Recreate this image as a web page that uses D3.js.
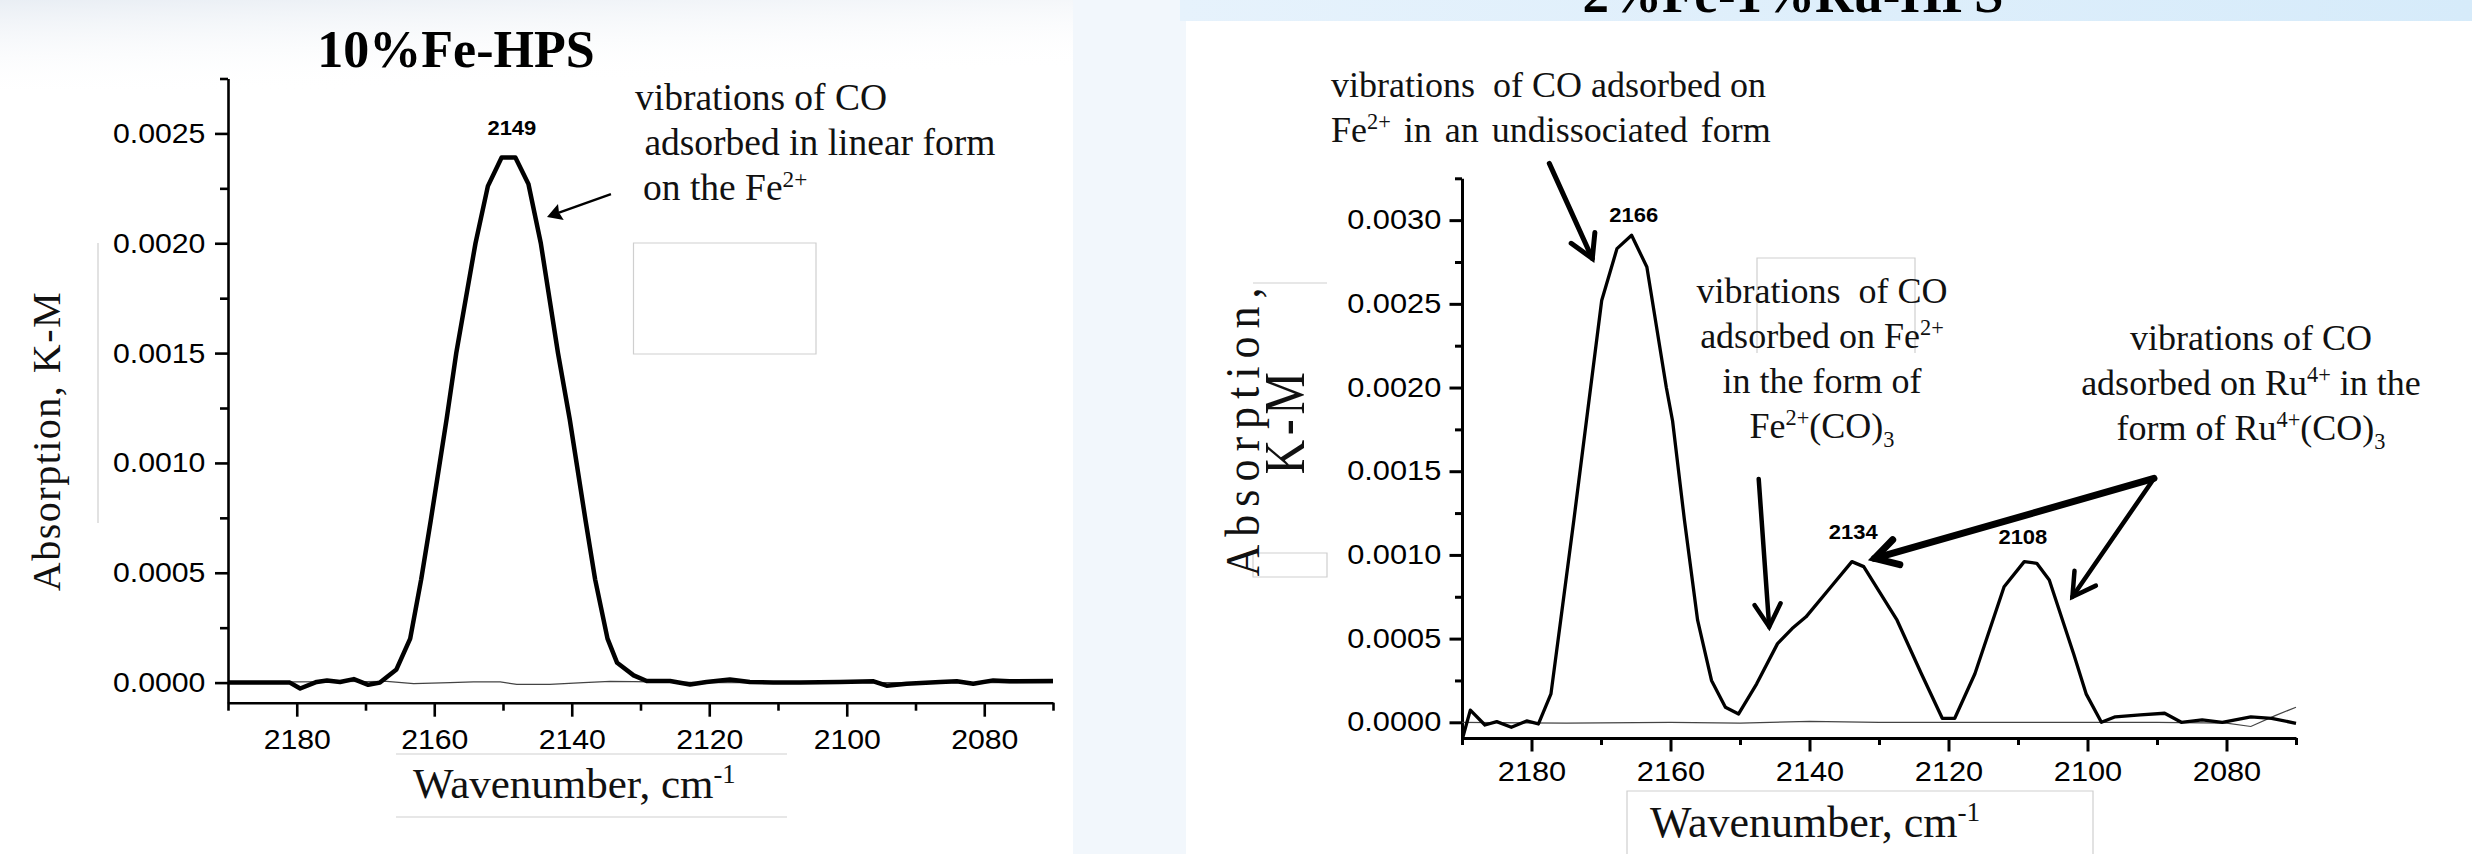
<!DOCTYPE html>
<html><head><meta charset="utf-8">
<script src="https://cdn.jsdelivr.net/npm/d3@7"></script>
<style>
html,body{margin:0;padding:0;background:#fff;}
svg{display:block;}
text{white-space:pre;}
.wide{transform-box:fill-box;transform-origin:center;}
</style></head><body>
<svg id="fig" width="2472" height="854"></svg>
<script>
// ---------- shared axis values ----------
const xMajorTicks = [2180, 2160, 2140, 2120, 2100, 2080];
const xMinorTicks = [2190, 2170, 2150, 2130, 2110, 2090, 2070];

// ---------- 10%Fe-HPS ----------
const feYMajor = [0, 0.0005, 0.0010, 0.0015, 0.0020, 0.0025];
const feYMinor = [0.00025, 0.00075, 0.00125, 0.00175, 0.00225, 0.00275];
const feWn = [2190, 2181, 2179.5, 2177.1, 2175.6, 2173.7, 2171.7, 2169.6, 2167.9, 2165.5,
  2163.5, 2161.9, 2160.5, 2158.2, 2156.8, 2154.0, 2152.2, 2150.2, 2148.2, 2146.3,
  2144.5, 2142.0, 2140.3, 2138.0, 2136.6, 2134.8, 2133.4, 2131.0, 2129.1, 2125.7,
  2122.8, 2120.4, 2117.0, 2114.1, 2110.7, 2106.8, 2101.0, 2096.1, 2094.2, 2091.3,
  2086.4, 2084.0, 2081.6, 2078.7, 2076.3, 2070];
const feAbs = [0, 0, -0.000027, 0.000003, 0.00001, 0.000003, 0.000016, -0.00001, 0, 0.00006,
  0.0002, 0.00047, 0.00074, 0.0012, 0.0015, 0.0020, 0.00226, 0.00239, 0.00239, 0.00227,
  0.0020, 0.0015, 0.0012, 0.00074, 0.00047, 0.0002, 0.00009, 0.000033, 0.000007, 0.000007,
  -0.000009, 0.000003, 0.000014, 0.000003, 0, 0, 0.000003, 0.000006, -0.000014, -0.000005,
  0.000003, 0.000006, -0.000005, 0.00001, 0.000006, 0.000007];
const feRefWn = [2190, 2180, 2170, 2166.9, 2163, 2157.7, 2154.3, 2150.4, 2148, 2143.2,
  2138.3, 2134.4, 2131, 2120, 2100, 2070];
const feRefAbs = [0, 0.000003, 0.000005, 0.000006, -0.000005, 0, 0.000003, 0.000003, -0.000008, -0.000008,
  0, 0.000006, 0.000004, 0, 0, 0];

// ---------- 2%Fe-1%Ru-HPS ----------
const ruYMajor = [0, 0.0005, 0.0010, 0.0015, 0.0020, 0.0025, 0.0030];
const ruYMinor = [0.00025, 0.00075, 0.00125, 0.00175, 0.00225, 0.00275, 0.00325];
const ruWn = [2189.9, 2188.8, 2186.7, 2185.0, 2182.9, 2180.7, 2179.0, 2177.2, 2175.8, 2173.9,
  2172.1, 2169.9, 2167.7, 2165.6, 2163.4, 2160.6, 2159.7, 2158.0, 2156.1, 2154.1,
  2152.1, 2150.2, 2147.6, 2144.6, 2142.5, 2140.5, 2136.9, 2133.9, 2132.2, 2127.4,
  2123.9, 2120.9, 2119.1, 2116.2, 2112.0, 2109.1, 2107.3, 2105.5, 2102.0, 2100.2,
  2098.0, 2096.0, 2092.4, 2088.9, 2086.5, 2083.5, 2080.6, 2076.5, 2073.5, 2070];
const ruAbs = [-0.000092, 0.000073, -0.000016, 0.000004, -0.00003, 0.000008, -0.00001, 0.00017, 0.00061, 0.00121,
  0.0018, 0.00252, 0.00283, 0.00291, 0.00272, 0.0020, 0.0018, 0.00121, 0.00061, 0.00025,
  0.00009, 0.00005, 0.00023, 0.00047, 0.00056, 0.00063, 0.00081, 0.00096, 0.00093, 0.00061,
  0.00029, 0.000024, 0.000024, 0.00029, 0.00081, 0.00096, 0.00095, 0.00085, 0.00041, 0.00017,
  0, 0.000033, 0.000044, 0.000054, 0, 0.000014, 0, 0.000033, 0.000024, -0.000006];
const ruRefWn = [2190, 2175, 2160, 2150, 2140, 2130, 2110, 2090, 2080, 2076.5, 2073, 2070];
const ruRefAbs = [0, -0.000005, 0, -0.000005, 0.000005, 0, 0, 0, -0.000005, -0.000025, 0.00004, 0.00009];

const SERIF = "'Liberation Serif','Times New Roman',serif";
const SANS = "'Liberation Sans',Arial,sans-serif";
const svg = d3.select('#fig');

// ---------- backdrop ----------
const defs = svg.append('defs');
const band = defs.append('linearGradient').attr('id', 'band');
band.append('stop').attr('offset', 0).attr('stop-color', '#e6f2fc');
band.append('stop').attr('offset', 1).attr('stop-color', '#d6ebfa');
const haze = defs.append('linearGradient').attr('id', 'haze')
  .attr('x1', 0).attr('y1', 0).attr('x2', 0.35).attr('y2', 1);
haze.append('stop').attr('offset', 0).attr('stop-color', '#e9eef4').attr('stop-opacity', 1);
haze.append('stop').attr('offset', 1).attr('stop-color', '#ffffff').attr('stop-opacity', 0);

svg.append('rect').attr('width', 2472).attr('height', 854).attr('fill', '#f2f7fc');
svg.append('rect').attr('x', 0).attr('y', 0).attr('width', 1073).attr('height', 854).attr('fill', '#fff');
svg.append('rect').attr('x', 0).attr('y', 0).attr('width', 1073).attr('height', 90).attr('fill', 'url(#haze)');
svg.append('rect').attr('x', 1180).attr('y', 0).attr('width', 1292).attr('height', 21).attr('fill', 'url(#band)');
svg.append('rect').attr('x', 1186).attr('y', 21).attr('width', 1286).attr('height', 833).attr('fill', '#fff');

// ---------- helpers ----------
function richText(g, x, y, parts, size, anchor, extra) {
  const t = g.append('text').attr('x', x).attr('y', y)
    .attr('font-family', SERIF).attr('font-size', size)
    .attr('text-anchor', anchor || 'start').attr('fill', '#111');
  if (extra) Object.entries(extra).forEach(([k, v]) => t.attr(k, v));
  let shift = 0;
  parts.forEach(p => {
    const [s, kind] = Array.isArray(p) ? p : [p, 'n'];
    const target = kind === 'sup' ? -0.36 * size : kind === 'sub' ? 0.24 * size : 0;
    t.append('tspan').attr('dy', target - shift)
      .attr('font-size', kind === 'n' ? size : size * 0.62).text(s);
    shift = target;
  });
  return t;
}

function arrow(g, x1, y1, x2, y2, width, head, filled) {
  const a = Math.atan2(y2 - y1, x2 - x1);
  const spread = Math.PI / 6;
  const p1 = [x2 - head * Math.cos(a - spread), y2 - head * Math.sin(a - spread)];
  const p2 = [x2 - head * Math.cos(a + spread), y2 - head * Math.sin(a + spread)];
  if (filled) {
    const back = [x2 - head * 0.75 * Math.cos(a), y2 - head * 0.75 * Math.sin(a)];
    g.append('line').attr('x1', x1).attr('y1', y1).attr('x2', back[0]).attr('y2', back[1])
      .attr('stroke', '#000').attr('stroke-width', width);
    g.append('path').attr('d', `M${x2},${y2}L${p1}L${back}L${p2}Z`).attr('fill', '#000');
  } else {
    g.append('line').attr('x1', x1).attr('y1', y1).attr('x2', x2).attr('y2', y2)
      .attr('stroke', '#000').attr('stroke-width', width).attr('stroke-linecap', 'round');
    g.append('path').attr('d', `M${p1}L${x2},${y2}L${p2}`).attr('fill', 'none')
      .attr('stroke', '#000').attr('stroke-width', width)
      .attr('stroke-linecap', 'round').attr('stroke-linejoin', 'miter');
  }
}

function faint(g, d) {
  g.append('path').attr('d', d).attr('fill', 'none').attr('stroke', '#cfcfcf').attr('stroke-width', 1.2);
}

function drawPanel(cfg) {
  const g = svg.append('g');
  const x = d3.scaleLinear().domain([2190, 2070]).range(cfg.xRange);
  const y = d3.scaleLinear().domain(cfg.yDomain).range(cfg.yRange);
  const x0 = cfg.xRange[0], yBottom = cfg.yRange[0];

  // axes
  g.append('g').attr('transform', `translate(${x0},0)`)
    .call(d3.axisLeft(y).tickValues(cfg.yMajor).tickFormat(d3.format('.4f'))
      .tickSize(cfg.majorLen).tickSizeOuter(0).tickPadding(cfg.yPad));
  g.append('g').attr('transform', `translate(${x0},0)`)
    .call(d3.axisLeft(y).tickValues(cfg.yMinor).tickFormat('').tickSize(cfg.minorLen).tickSizeOuter(0))
    .select('.domain').remove();
  g.append('g').attr('transform', `translate(0,${yBottom})`)
    .call(d3.axisBottom(x).tickValues(xMajorTicks).tickFormat(d3.format('d'))
      .tickSize(cfg.majorLen + 1).tickSizeOuter(0).tickPadding(cfg.xPad));
  g.append('g').attr('transform', `translate(0,${yBottom})`)
    .call(d3.axisBottom(x).tickValues(xMinorTicks).tickFormat('').tickSize(cfg.minorLen).tickSizeOuter(0))
    .select('.domain').remove();
  g.selectAll('.domain, .tick line').attr('stroke', '#000').attr('stroke-width', cfg.axisW);
  g.selectAll('.tick text').attr('font-family', SANS).attr('font-size', cfg.tickFont)
    .attr('fill', '#000').classed('wide', true).style('transform', `scaleX(${cfg.tickStretch})`);

  // spectra
  const line = d3.line().x(d => x(d[0])).y(d => y(d[1]));
  g.append('path').datum(d3.zip(cfg.refWn, cfg.refAbs)).attr('d', line)
    .attr('fill', 'none').attr('stroke', '#444').attr('stroke-width', 1.2);
  g.append('path').datum(d3.zip(cfg.wn, cfg.abs)).attr('d', line)
    .attr('fill', 'none').attr('stroke', '#000').attr('stroke-width', cfg.lineW)
    .attr('stroke-linejoin', 'round');

  // peak labels
  cfg.peaks.forEach(p => {
    g.append('text').attr('x', x(p.wn) + p.dx).attr('y', y(p.v) + p.dy)
      .attr('text-anchor', 'middle').attr('font-family', SANS).attr('font-weight', 'bold')
      .attr('font-size', cfg.peakFont).attr('fill', '#000').classed('wide', true)
      .style('transform', 'scaleX(1.1)').text(String(p.wn));
  });
  return {g, x, y};
}

// ================= left panel =================
const fe = drawPanel({
  xRange: [228, 1053], yDomain: [-0.0000915, 0.00275], yRange: [702.7, 78.5],
  yMajor: feYMajor, yMinor: feYMinor, majorLen: 13, minorLen: 8, yPad: 13, xPad: 12,
  axisW: 2.6, tickFont: 28, tickStretch: 1.08, lineW: 4.5, peakFont: 20,
  wn: feWn, abs: feAbs, refWn: feRefWn, refAbs: feRefAbs,
  peaks: [{wn: 2149, v: 0.00239, dx: 2, dy: -23}]
});
{
  const g = fe.g, x = fe.x, y = fe.y;
  faint(g, 'M633.5,243H816V354H633.5Z');
  faint(g, 'M98,243V523');
  faint(g, 'M396,754H787M396,817H787');
  g.append('text').attr('x', 456).attr('y', 67).attr('text-anchor', 'middle')
    .attr('font-family', SERIF).attr('font-weight', 'bold').attr('font-size', 52)
    .attr('fill', '#000').text('10%Fe-HPS');
  richText(g, 413, 798, ['Wavenumber, cm', ['-1', 'sup']], 43, 'start');
  g.append('text').attr('transform', 'translate(60,441) rotate(-90)').attr('text-anchor', 'middle')
    .attr('font-family', SERIF).attr('font-size', 40).attr('letter-spacing', 1.5)
    .attr('fill', '#111').text('Absorption, K-M');
  richText(g, 635, 110, ['vibrations of CO'], 37.5);
  richText(g, 635, 155, [' adsorbed in linear form'], 37.5);
  richText(g, 643, 200, ['on the Fe', ['2+', 'sup']], 37.5);
  arrow(g, x(2134.3), y(0.002224), x(2143.6), y(0.00212), 2.4, 17, true);
}

// ================= right panel =================
const ru = drawPanel({
  xRange: [1462, 2296], yDomain: [-0.0000938, 0.00325], yRange: [738, 178.3],
  yMajor: ruYMajor, yMinor: ruYMinor, majorLen: 12.5, minorLen: 7, yPad: 14, xPad: 10,
  axisW: 3, tickFont: 27, tickStretch: 1.14, lineW: 3.3, peakFont: 20,
  wn: ruWn, abs: ruAbs, refWn: ruRefWn, refAbs: ruRefAbs,
  peaks: [{wn: 2166, v: 0.00291, dx: 5, dy: -13}, {wn: 2134, v: 0.00096, dx: 2, dy: -23},
          {wn: 2108, v: 0.00096, dx: -9, dy: -18}]
});
{
  const g = ru.g, x = ru.x, y = ru.y;
  faint(g, 'M1253,283H1327');
  faint(g, 'M1253,553H1327V577H1253Z');
  faint(g, 'M1757,353V258H1915V353');
  faint(g, 'M1627,860V791H2093V860');
  g.append('text').attr('x', 1793).attr('y', 12).attr('text-anchor', 'middle')
    .attr('font-family', SERIF).attr('font-weight', 'bold').attr('font-size', 53)
    .attr('fill', '#000').text('2%Fe-1%Ru-HPS');
  richText(g, 1650, 837, ['Wavenumber, cm', ['-1', 'sup']], 44, 'start');
  g.append('text').attr('transform', 'translate(1259,428) rotate(-90) scale(1,1.1)')
    .attr('text-anchor', 'middle')
    .attr('font-family', SERIF).attr('font-size', 44).attr('letter-spacing', 8)
    .attr('fill', '#111').text('Absorption,');
  g.append('text').attr('transform', 'translate(1304,421) rotate(-90) scale(1,1.2)')
    .attr('text-anchor', 'middle')
    .attr('font-family', SERIF).attr('font-size', 48).attr('letter-spacing', 4.5)
    .attr('fill', '#111').text('K-M');

  richText(g, 1331, 97, ['vibrations  of CO adsorbed on'], 36);
  richText(g, 1331, 142, ['Fe', ['2+', 'sup'], ' in an undissociated form'], 36, 'start', {'word-spacing': 4});

  richText(g, 1822, 303, ['vibrations  of CO'], 36, 'middle');
  richText(g, 1822, 348, ['adsorbed on Fe', ['2+', 'sup']], 36, 'middle');
  richText(g, 1822, 393, ['in the form of'], 36, 'middle');
  richText(g, 1822, 438, ['Fe', ['2+', 'sup'], '(CO)', ['3', 'sub']], 36, 'middle');

  richText(g, 2251, 350, ['vibrations of CO'], 36, 'middle');
  richText(g, 2251, 395, ['adsorbed on Ru', ['4+', 'sup'], ' in the'], 36, 'middle');
  richText(g, 2251, 440, ['form of Ru', ['4+', 'sup'], '(CO)', ['3', 'sub']], 36, 'middle');

  arrow(g, x(2177.44), y(0.003339), x(2171.25), y(0.002771), 5, 26, false);
  arrow(g, x(2147.31), y(0.001454), x(2145.8), y(0.000571), 4.5, 26, false);
  arrow(g, x(2090.43), y(0.001457), x(2130.63), y(0.000979), 7, 26, false);
  arrow(g, x(2090.43), y(0.001457), x(2102.17), y(0.00075), 4.5, 26, false);
}
</script>
</body></html>
